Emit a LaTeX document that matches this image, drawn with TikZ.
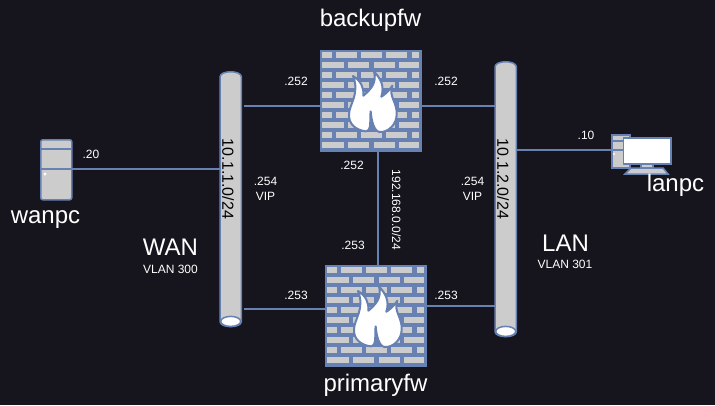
\documentclass[tikz,border=0pt]{standalone}
\usepackage{fontspec}
\setmainfont{Liberation Sans}
\usetikzlibrary{calc}
\definecolor{bgc}{HTML}{16141C}
\definecolor{edgec}{HTML}{6881B3}
\definecolor{fillc}{HTML}{CCCCCC}
\tikzset{
  big/.style={text=white,font=\fontsize{24}{26}\selectfont,inner sep=0pt},
  mid/.style={text=black,font=\fontsize{16}{18}\selectfont,inner sep=0pt},
  small/.style={text=white,font=\fontsize{12}{14.4}\selectfont,inner sep=0pt,align=center},
  link/.style={draw=edgec,line width=1.5pt},
  solid part/.style={draw=edgec,fill=fillc,line width=1.5pt},
  brick/.style={draw=edgec,fill=fillc,line width=1.3pt},
  fwbox/.style={minimum width=101pt,minimum height=101pt,inner sep=0pt,draw=edgec,fill=edgec,line width=1pt},
  flame/.style={draw=edgec,fill=white,line width=2pt,line join=round}
}
\newcommand{\brickrow}[3]{%
  \foreach \xa/\xb in {#3}{\path[brick] (\xa,#1) rectangle (\xb,#2);}
}
\newcommand{\firewall}[1]{%
  \begin{scope}[shift={(#1.north west)}]
    \foreach \r in {0,2,4,6,8}{
      \pgfmathsetmacro{\ya}{1.5+10*\r}\pgfmathsetmacro{\yb}{\ya+7.5}
      \brickrow{\ya}{\yb}{1.5/12.5,15/37.5,40/62.5,65.5/88,91/99.5}
      \pgfmathsetmacro{\yc}{1.5+10*(\r+1)}\pgfmathsetmacro{\yd}{\yc+7.5}
      \brickrow{\yc}{\yd}{1.5/24.5,27/50,53/75.5,78/99.5}
    }
    \path[flame,shift={(-9.3,-9.3)},x=0.3333pt,y=-0.3333pt]
      (165,272) .. controls (135,268) and (113,250) .. (115,220)
      .. controls (116,190) and (148,160) .. (127,106)
      .. controls (150,120) and (160,140) .. (158,165)
      .. controls (175,150) and (200,130) .. (190,92)
      .. controls (210,115) and (222,135) .. (212,168)
      .. controls (225,160) and (235,150) .. (245,135)
      .. controls (232,165) and (260,185) .. (258,222)
      .. controls (257,250) and (235,275) .. (207,274)
      .. controls (190,272) and (182,240) .. (180,212)
      .. controls (176,235) and (185,270) .. (165,272) -- cycle;
  \end{scope}
}
\newcommand{\pipe}[1]{%
  \path[solid part] (#1.south west) -- (#1.north west)
    .. controls ($(#1.north west)+(0,-7)$) and ($(#1.north east)+(0,-7)$) .. (#1.north east)
    -- (#1.south east)
    .. controls ($(#1.south east)+(0,7)$) and ($(#1.south west)+(0,7)$) .. (#1.south west) -- cycle;
  \path[solid part,fill=white] (#1.south) ellipse [x radius=10pt,y radius=5pt];
}
\begin{document}
\begin{tikzpicture}[x=1pt,y=-1pt]
\useasboundingbox[fill=bgc] (0,0) rectangle (715,405);

% firewalls
\node[fwbox,anchor=north west] (fwb) at (320,50) {};
\firewall{fwb}
\node[fwbox,anchor=north west] (fwp) at (325,265) {};
\firewall{fwp}

% network cylinders
\node[anchor=north west,inner sep=0pt,minimum width=21pt,minimum height=244pt] (wan) at (220,77) {};
\node[anchor=north west,inner sep=0pt,minimum width=21pt,minimum height=264pt] (lan) at (495,67) {};
\pipe{wan}
\pipe{lan}

% wanpc
\node[anchor=north west,inner sep=0pt,minimum width=31pt,minimum height=60pt,rounded corners=2pt,solid part] (wanbox) at (40,139) {};
\draw[link] (40,149) -- (71,149);
\draw[link] (40,169) -- (71,169);
\fill[white] (45,174) circle (1.7pt);

% lanpc
\node[anchor=north west,inner sep=0pt,minimum width=18pt,minimum height=33pt,solid part] (lantower) at (611,134) {};
\draw[link,line width=1.2pt] (611,141) -- (629,141) (611,150) -- (629,150);
\fill[white] (614,154) circle (1.2pt);
\path[solid part] (641,163) rectangle (653,168);
\path[solid part] (631,168) -- (663,168) -- (668,174) -- (625,174) -- cycle;
\node[anchor=north west,inner sep=0pt,minimum width=47.5pt,minimum height=26pt,draw=edgec,fill=white,line width=1.5pt] (lanmon) at (622.5,137) {};

% connectors
\coordinate (c1) at (244,106);
\coordinate (c2) at (320,106);
\coordinate (c3) at (421,106);
\coordinate (c4) at (495,106);
\coordinate (c5) at (244,309);
\coordinate (c6) at (325,309);
\coordinate (c7) at (426,306);
\coordinate (c8) at (495,306);
\coordinate (c9) at (71,169);
\coordinate (c10) at (220,169);
\coordinate (c11) at (516,150);
\coordinate (c12) at (611,150);
\coordinate (c13) at (378,151);
\coordinate (c14) at (378,265);
\draw[link] (c1) -- (c2);
\draw[link] (c3) -- (c4);
\draw[link] (c5) -- (c6);
\draw[link] (c7) -- (c8);
\draw[link] (c9) -- (c10);
\draw[link] (c11) -- (c12);
\draw[link] (c13) -- (c14);

% big labels
\node[big] (t1) at (370.5,20.5) {backupfw};
\node[big] (t2) at (375.5,385) {primaryfw};
\node[big] (t3) at (45.5,219.5) {wanpc};
\node[big] (t4) at (675.5,185) {lanpc};
\node[big] (t5) at (170.5,247.5) {WAN};
\node[big] (t6) at (565.5,243) {LAN};
\node[small] (t7) at (170.5,269) {VLAN 300};
\node[small] (t8) at (565,264) {VLAN 301};

% addresses
\node[mid,rotate=-90] (t9) at (228,179) {10.1.1.0/24};
\node[mid,rotate=-90] (t10) at (503,179) {10.1.2.0/24};
\node[small,rotate=-90] (t11) at (396.5,210) {192.168.0.0/24};
\node[small] (a1) at (296,81) {.252};
\node[small] (a2) at (446,81) {.252};
\node[small] (a3) at (352,165) {.252};
\node[small] (a4) at (353,245) {.253};
\node[small] (a5) at (296,295) {.253};
\node[small] (a6) at (446,295) {.253};
\node[small] (a7) at (91,154) {.20};
\node[small] (a8) at (586,135) {.10};
\node[small] (a9) at (265.5,189) {.254\\VIP};
\node[small] (a10) at (472.5,189) {.254\\VIP};
\end{tikzpicture}
\end{document}
